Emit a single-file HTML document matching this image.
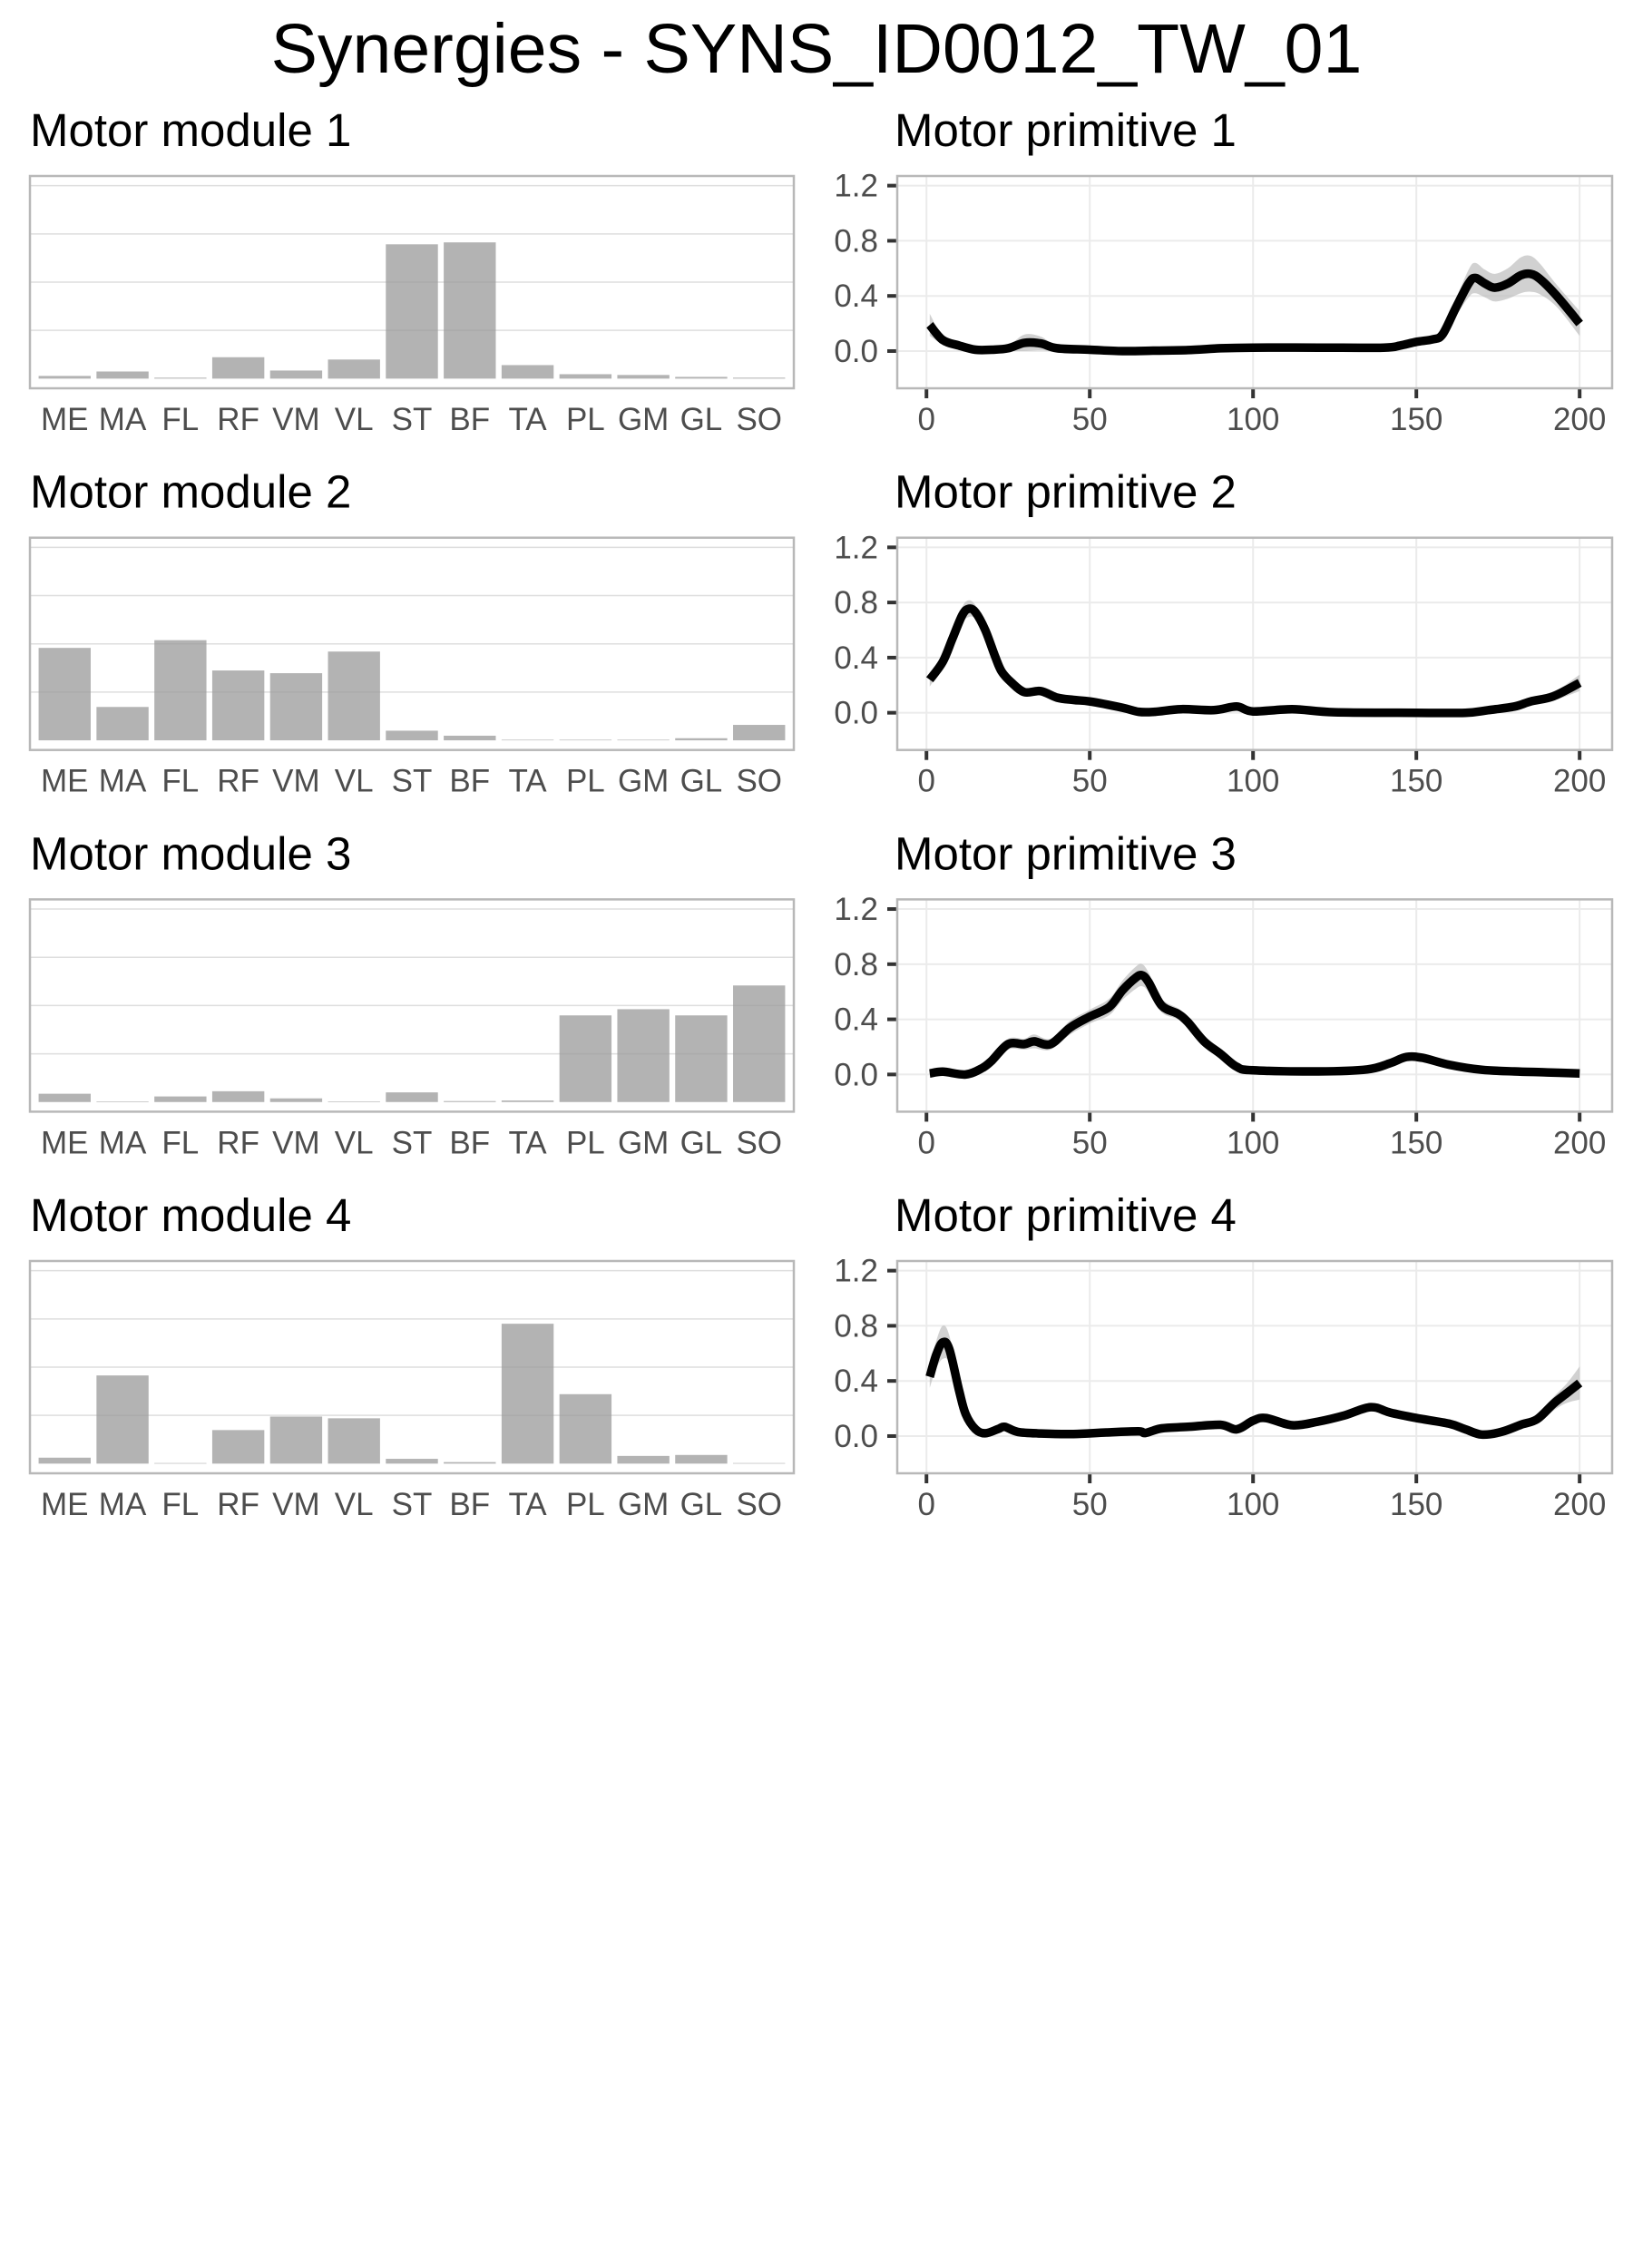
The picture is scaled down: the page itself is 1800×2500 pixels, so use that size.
<!DOCTYPE html>
<html><head><meta charset="utf-8"><style>
html,body{margin:0;padding:0;background:#fff;}
svg{display:block;font-family:"Liberation Sans",Arial,sans-serif;}
</style></head><body>
<svg id="fig" width="1800" height="2500" viewBox="0 0 1800 2500" xmlns="http://www.w3.org/2000/svg">
<rect width="1800" height="2500" fill="#fff"/>
<text x="900" y="80" font-size="77" text-anchor="middle" fill="#000">Synergies - SYNS_ID0012_TW_01</text>
</svg>
<script>
const muscles = ["ME","MA","FL","RF","VM","VL","ST","BF","TA","PL","GM","GL","SO"];
const module1 = [0.014,0.037,0.005,0.111,0.042,0.099,0.696,0.706,0.070,0.023,0.019,0.009,0.005];
const module2 = [0.479,0.173,0.519,0.362,0.348,0.460,0.050,0.024,0.003,0.003,0.003,0.011,0.080];
const module3 = [0.043,0.003,0.029,0.056,0.019,0.003,0.050,0.005,0.008,0.449,0.481,0.449,0.604];
const module4 = [0.031,0.457,0.003,0.174,0.244,0.235,0.025,0.008,0.725,0.360,0.040,0.045,0.003];

const prim1X = [1,5,10,15,20,25,30,35,40,50,60,70,80,90,100,120,140,145,150,155,158,162,166,168,171,174,178,182,185,188,193,200];
const prim1Y = [0.19,0.08,0.04,0.01,0.01,0.02,0.06,0.055,0.02,0.01,0,0.003,0.007,0.02,0.025,0.025,0.025,0.04,0.067,0.085,0.12,0.31,0.49,0.53,0.49,0.46,0.49,0.55,0.56,0.52,0.40,0.20];
const prim1SE = [0.08,0.03,0.02,0.02,0.02,0.02,0.06,0.05,0.02,0.01,0.01,0.01,0.01,0.01,0.01,0.01,0.01,0.01,0.02,0.02,0.03,0.06,0.1,0.11,0.1,0.1,0.11,0.13,0.13,0.11,0.08,0.09];
const prim2X = [1,5,8,11,13,15,18,21,23,26,30,35,40,45,50,60,65,70,78,88,95,100,112,125,150,165,172,180,185,192,200];
const prim2Y = [0.24,0.37,0.54,0.71,0.755,0.73,0.60,0.41,0.30,0.22,0.15,0.157,0.11,0.093,0.082,0.037,0.007,0.007,0.026,0.019,0.045,0.01,0.026,0.004,0,0,0.019,0.045,0.082,0.12,0.217];
const prim2SE = [0.05,0.04,0.05,0.06,0.06,0.05,0.04,0.04,0.04,0.04,0.03,0.03,0.02,0.02,0.02,0.01,0.01,0.01,0.01,0.01,0.01,0.01,0.01,0.01,0.01,0.01,0.01,0.02,0.02,0.03,0.06];
const prim3X = [1,5,12,17,20,25,30,33,38,44,50,56,60,64,66,68,72,77,80,85,90,95,100,120,135,142,147,152,160,170,180,190,200];
const prim3Y = [0.007,0.02,0,0.045,0.10,0.22,0.22,0.24,0.22,0.34,0.42,0.49,0.61,0.70,0.72,0.67,0.50,0.44,0.38,0.24,0.15,0.056,0.03,0.022,0.037,0.082,0.127,0.12,0.071,0.034,0.022,0.015,0.007];
const prim3SE = [0.01,0.01,0.01,0.02,0.03,0.04,0.04,0.05,0.04,0.05,0.05,0.06,0.07,0.08,0.08,0.07,0.05,0.04,0.04,0.03,0.03,0.02,0.01,0.01,0.01,0.02,0.02,0.02,0.01,0.01,0.01,0.01,0.01];
const prim4X = [1,3,5,7,10,12,15,18,22,24,28,35,45,55,65,67,72,80,90,95,100,104,112,120,128,136,142,150,160,165,170,176,182,187,192,196,200];
const prim4Y = [0.43,0.59,0.68,0.63,0.33,0.16,0.05,0.02,0.052,0.067,0.03,0.019,0.015,0.026,0.034,0.022,0.056,0.067,0.082,0.049,0.112,0.131,0.079,0.105,0.15,0.21,0.17,0.131,0.09,0.049,0.011,0.03,0.082,0.123,0.235,0.31,0.385];
const prim4SE = [0.08,0.1,0.12,0.1,0.06,0.04,0.03,0.03,0.03,0.03,0.02,0.02,0.02,0.02,0.02,0.02,0.02,0.02,0.02,0.02,0.02,0.02,0.02,0.02,0.02,0.02,0.02,0.02,0.02,0.02,0.02,0.02,0.02,0.03,0.05,0.07,0.12];
const lineYTicks = [0.0,0.4,0.8,1.2];
const lineYLabels = ["0.0","0.4","0.8","1.2"];
const lineXTicks = [0,50,100,150,200];
const barGrid = [0.25,0.5,0.75,1.0];

const NS = "http://www.w3.org/2000/svg";
const svg = document.getElementById('fig');
function mk(tag, attrs, parent){
  const e = document.createElementNS(NS, tag);
  for (const k in attrs) e.setAttribute(k, attrs[k]);
  (parent||svg).appendChild(e);
  return e;
}
function smooth(pts){
  let d = 'M' + pts[0][0].toFixed(1) + ',' + pts[0][1].toFixed(1);
  for (let i = 0; i < pts.length - 1; i++) {
    const p0 = pts[Math.max(0, i-1)], p1 = pts[i], p2 = pts[i+1], p3 = pts[Math.min(pts.length-1, i+2)];
    const c1x = p1[0] + (p2[0]-p0[0])/6, c1y = p1[1] + (p2[1]-p0[1])/6;
    const c2x = p2[0] - (p3[0]-p1[0])/6, c2y = p2[1] - (p3[1]-p1[1])/6;
    d += ' C' + c1x.toFixed(1) + ',' + c1y.toFixed(1) + ' ' + c2x.toFixed(1) + ',' + c2y.toFixed(1) + ' ' + p2[0].toFixed(1) + ',' + p2[1].toFixed(1);
  }
  return d;
}
const tops = [194, 592.7, 991.4, 1390];
const PH = 234;
const modules = [module1, module2, module3, module4];
const prims = [[prim1X,prim1Y,prim1SE],[prim2X,prim2Y,prim2SE],[prim3X,prim3Y,prim3SE],[prim4X,prim4Y,prim4SE]];

const BL = 33, BR = 875;
for (let p = 0; p < 4; p++) {
  const top = tops[p];
  const g = mk('g', {});
  
  
  const t = mk('text', {x: BL, y: top - 33, 'font-size': 51, fill: '#000'}, g);
  t.textContent = 'Motor module ' + (p+1);
  
  
  const yS = v => top + PH - (v + 0.05) / 1.1 * PH;
  const step = (BR - BL) / 13.2;
  const xS = i => BL + (i + 0.6) * step;
  barGrid.forEach(v => {
    const l = mk('line', {x1: BL, x2: BR, y1: yS(v), y2: yS(v), stroke: '#dedede', 'stroke-width': 1.5}, g);
    
    
  });
  modules[p].forEach((v, i) => {
    const r = mk('rect', {x: xS(i) - 0.45*step, width: 0.9*step, y: yS(v), height: Math.max(0.5, yS(0) - yS(v)), fill: '#999', 'fill-opacity': 0.75}, g);
    
    
  });
  const b = mk('rect', {x: BL, y: top, width: BR - BL, height: PH, fill: 'none', stroke: '#b8b8b8', 'stroke-width': 2.5}, g);
  
  
  muscles.forEach((m, i) => {
    const tl = mk('text', {x: xS(i), y: top + 280, 'font-size': 35, fill: '#4d4d4d', 'text-anchor': 'middle'}, g);
    tl.textContent = m;
    
    
  });
}

const LL = 989, LR = 1777;
for (let p = 0; p < 4; p++) {
  const top = tops[p];
  const g = mk('g', {});
  
  
  const t = mk('text', {x: 986, y: top - 33, 'font-size': 51, fill: '#000'}, g);
  t.textContent = 'Motor primitive ' + (p+1);
  
  
  const yS = v => top + PH - (v + 0.27) / 1.54 * PH;
  const xS = x => LL + (x + 8.95) / 218.9 * (LR - LL);
  lineYTicks.forEach((v, i) => {
    const l = mk('line', {x1: LL, x2: LR, y1: yS(v), y2: yS(v), stroke: '#ebebeb', 'stroke-width': 2}, g);
    
    
    const tk = mk('line', {x1: LL - 11, x2: LL, y1: yS(v), y2: yS(v), stroke: '#333', 'stroke-width': 4}, g);
    
    
    const tl = mk('text', {x: 968, y: yS(v) + 12, 'font-size': 35, fill: '#4d4d4d', 'text-anchor': 'end'}, g);
    tl.textContent = lineYLabels[i];
    
    
  });
  lineXTicks.forEach(v => {
    const l = mk('line', {x1: xS(v), x2: xS(v), y1: top, y2: top + PH, stroke: '#ebebeb', 'stroke-width': 2}, g);
    
    
    const tk = mk('line', {x1: xS(v), x2: xS(v), y1: top + PH, y2: top + PH + 11, stroke: '#333', 'stroke-width': 4}, g);
    
    
    const tl = mk('text', {x: xS(v), y: top + 280, 'font-size': 35, fill: '#4d4d4d', 'text-anchor': 'middle'}, g);
    tl.textContent = String(v);
    
    
  });
  const [xs, ys, se] = prims[p];
  const upPts = xs.map((x, i) => [xS(x), yS(ys[i] + se[i])]);
  const dnPts = xs.map((x, i) => [xS(x), yS(ys[i] - se[i])]).reverse();
  const ribD = smooth(upPts) + ' L' + smooth(dnPts).slice(1) + ' Z';
  const rib = mk('path', {d: ribD, fill: '#bdbdbd', 'fill-opacity': 0.7}, g);
  
  
  const ln = mk('path', {d: smooth(xs.map((x, i) => [xS(x), yS(ys[i])])), fill: 'none', stroke: '#000', 'stroke-width': 9.5, 'stroke-linejoin': 'round', 'stroke-linecap': 'butt'}, g);
  
  
  const b = mk('rect', {x: LL, y: top, width: LR - LL, height: PH, fill: 'none', stroke: '#b8b8b8', 'stroke-width': 2.5}, g);
  
  
}
</script>
</body></html>
